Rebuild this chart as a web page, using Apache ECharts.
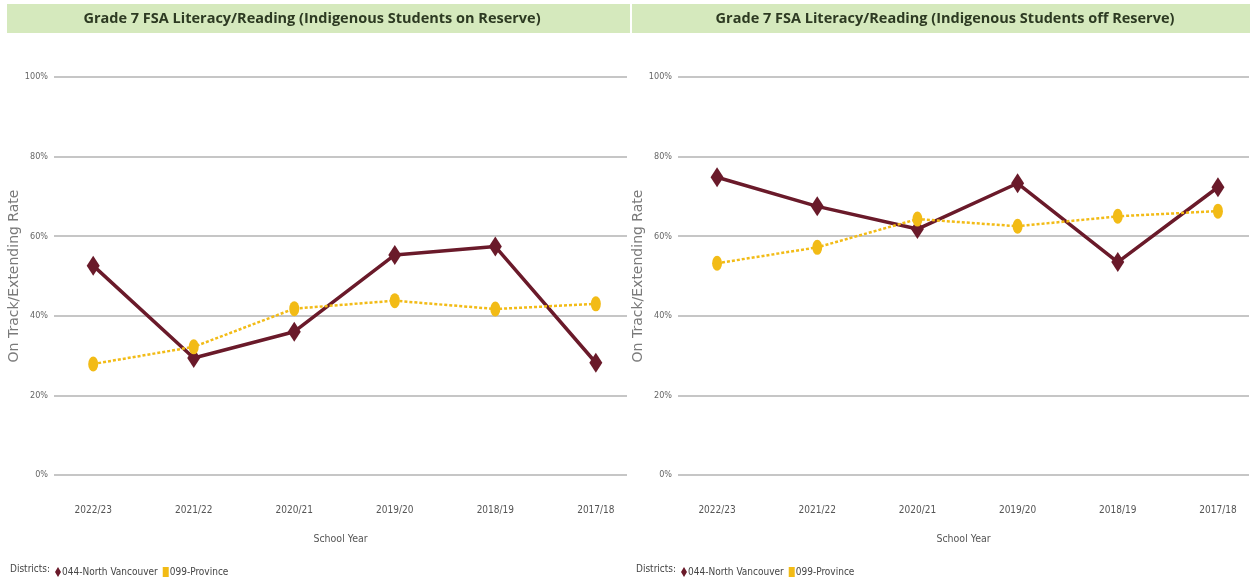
<!DOCTYPE html>
<html>
<head>
<meta charset="utf-8">
<script src="https://cdn.jsdelivr.net/npm/echarts@6/dist/echarts.min.js"></script>
<style>
html,body{margin:0;padding:0;background:#fff;}
#chart{width:1252px;height:579px;}
</style>
</head>
<body>
<div id="chart"></div>
<script>
const categories = ['2022/23','2021/22','2020/21','2019/20','2018/19','2017/18'];
const yTicks = [0,20,40,60,80,100];
const titles = ['Grade 7 FSA Literacy/Reading (Indigenous Students on Reserve)',
                'Grade 7 FSA Literacy/Reading (Indigenous Students off Reserve)'];
const onReserveNV = [52.6, 29.4, 36.0, 55.3, 57.4, 28.2];
const onReserveProv = [27.9, 32.2, 41.8, 43.8, 41.7, 43.0];
const offReserveNV = [74.8, 67.5, 61.8, 73.3, 53.5, 72.3];
const offReserveProv = [53.2, 57.2, 64.3, 62.5, 65.0, 66.3];
const seriesNames = ['044-North Vancouver', '099-Province'];

const MAROON = '#6a1a2a';
const GOLD = '#f2bb16';
const NARROW = "'Liberation Sans Narrow','DejaVu Sans Condensed','Roboto',sans-serif";

const chart = echarts.init(document.getElementById('chart'), null, {renderer:'canvas'});

function pts(arr){ return arr.map((v,i)=>[i,v]); }

const panels = [
  {left:54, width:573, titleX:7, titleW:623, titleC:312, legendX:10, data:[onReserveNV,onReserveProv]},
  {left:678, width:571, titleX:632, titleW:618, titleC:945, legendX:636, data:[offReserveNV,offReserveProv]}
];

const grid=[], xAxis=[], yAxis=[], series=[], legend=[], graphic=[];
panels.forEach((p,k)=>{
  grid.push({left:p.left, width:p.width, top:77, height:398});
  xAxis.push({
    type:'value', gridIndex:k, min:-0.39, max:5.31,
    axisLine:{show:false}, axisTick:{show:false}, splitLine:{show:false},
    axisLabel:{customValues:[0,1,2,3,4,5], formatter:(v)=>categories[Math.round(v)],
      color:'#555', fontFamily:NARROW, fontSize:10, margin:30},
    name:'School Year', nameLocation:'middle', nameGap:59,
    nameTextStyle:{color:'#555', fontFamily:NARROW, fontSize:10.5}
  });
  yAxis.push({
    type:'value', gridIndex:k, min:0, max:100, interval:20,
    axisLine:{show:false}, axisTick:{show:false},
    splitLine:{show:true, lineStyle:{color:'#b3b3b3', width:1.5}},
    axisLabel:{formatter:'{value}%', color:'#666', fontFamily:NARROW, fontSize:9, margin:6},
    name:'On Track/Extending Rate', nameLocation:'middle', nameGap:31,
    nameTextStyle:{color:'#7a7a7a', fontFamily:'DejaVu Sans', fontSize:14}
  });
  series.push({
    name:seriesNames[0], type:'line', xAxisIndex:k, yAxisIndex:k,
    data:pts(p.data[0]), symbol:'diamond', symbolSize:[13,20],
    itemStyle:{color:MAROON}, lineStyle:{color:MAROON, width:3.5}, z:2
  });
  series.push({
    name:seriesNames[1], type:'line', xAxisIndex:k, yAxisIndex:k,
    data:pts(p.data[1]), symbol:'circle', symbolSize:[10,15],
    itemStyle:{color:GOLD}, lineStyle:{color:GOLD, width:2.5, type:[3,2]}, z:3
  });
  legend.push({
    left:p.legendX+40, top:562, itemGap:5, itemWidth:6, itemHeight:10,
    textStyle:{color:'#444', fontFamily:NARROW, fontSize:10, padding:[0,0,0,-4]},
    data:[{name:seriesNames[0], icon:'diamond'},{name:seriesNames[1], icon:'rect'}]
  });
  graphic.push({type:'rect', left:p.titleX, top:4, shape:{width:p.titleW, height:29}, style:{fill:'#d5e9bd'}, z:-1});
  graphic.push({type:'text', x:p.titleC, y:19, style:{text:titles[k], fill:'#2d3a22',
    font:"bold 14.5px 'Open Sans', sans-serif", textAlign:'center', textVerticalAlign:'middle'}});
  graphic.push({type:'text', left:p.legendX, top:564, style:{text:'Districts:', fill:'#444',
    font:"10px "+NARROW}});
});

chart.setOption({
  animation:false,
  backgroundColor:'#fff',
  grid, xAxis, yAxis, series, legend, graphic
});
</script>
</body>
</html>
